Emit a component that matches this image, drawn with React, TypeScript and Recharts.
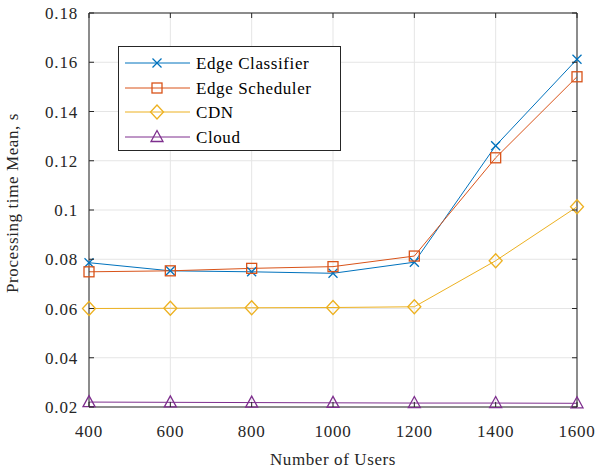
import { LineChart, Line, XAxis, YAxis, CartesianGrid, ReferenceLine, Legend } from 'recharts';

const users = [400, 600, 800, 1000, 1200, 1400, 1600];
const edgeClassifier = [0.0786, 0.0753, 0.0749, 0.0743, 0.0788, 0.1261, 0.1612];
const edgeScheduler = [0.0749, 0.0753, 0.0763, 0.077, 0.0813, 0.1212, 0.1541];
const cdn = [0.06, 0.0601, 0.0603, 0.0604, 0.0607, 0.0794, 0.1013];
const cloud = [0.022, 0.0219, 0.0218, 0.0217, 0.0216, 0.0216, 0.0215];

const xTicks = [400, 600, 800, 1000, 1200, 1400, 1600];
const yTicks = [0.02, 0.04, 0.06, 0.08, 0.1, 0.12, 0.14, 0.16, 0.18];

const data = users.map((u, i) => ({
  users: u,
  classifier: edgeClassifier[i],
  scheduler: edgeScheduler[i],
  cdn: cdn[i],
  cloud: cloud[i],
}));

const series = [
  { key: 'classifier', name: 'Edge Classifier', color: '#0072BD', marker: 'x' },
  { key: 'scheduler', name: 'Edge Scheduler', color: '#D95319', marker: 'square' },
  { key: 'cdn', name: 'CDN', color: '#EDB120', marker: 'diamond' },
  { key: 'cloud', name: 'Cloud', color: '#7E2F8E', marker: 'triangle' },
];

const FONT = '"Liberation Serif", "Times New Roman", serif';
const AXIS = '#262626';
const TOP = 13;
const BOTTOM = 407;
const LEFT = 89;
const RIGHT = 577;

function Marker({ type, cx, cy, color }: { type: string; cx: number; cy: number; color: string }) {
  const sw = 1.3;
  if (type === 'x') {
    const r = 4.5;
    return (
      <g stroke={color} strokeWidth={sw} fill="none">
        <line x1={cx - r} y1={cy - r} x2={cx + r} y2={cy + r} />
        <line x1={cx - r} y1={cy + r} x2={cx + r} y2={cy - r} />
      </g>
    );
  }
  if (type === 'square') {
    const r = 5;
    return <rect x={cx - r} y={cy - r} width={2 * r} height={2 * r} stroke={color} strokeWidth={sw} fill="none" />;
  }
  if (type === 'diamond') {
    return (
      <polygon
        points={`${cx},${cy - 7} ${cx + 6.5},${cy} ${cx},${cy + 7} ${cx - 6.5},${cy}`}
        stroke={color}
        strokeWidth={sw}
        fill="none"
      />
    );
  }
  return (
    <polygon
      points={`${cx},${cy - 6.5} ${cx + 6},${cy + 4.5} ${cx - 6},${cy + 4.5}`}
      stroke={color}
      strokeWidth={sw}
      fill="none"
    />
  );
}

const XTick = (props: any) => {
  const { x, payload } = props;
  return (
    <g>
      <line x1={x} y1={BOTTOM} x2={x} y2={BOTTOM - 5} stroke={AXIS} />
      <line x1={x} y1={TOP} x2={x} y2={TOP + 5} stroke={AXIS} />
      <text x={x} y={437} textAnchor="middle" fontFamily={FONT} fontSize={17} fill={AXIS} letterSpacing={0.8}>
        {payload.value}
      </text>
    </g>
  );
};

const YTick = (props: any) => {
  const { y, payload } = props;
  return (
    <g>
      <line x1={LEFT} y1={y} x2={LEFT + 5} y2={y} stroke={AXIS} />
      <line x1={RIGHT} y1={y} x2={RIGHT - 5} y2={y} stroke={AXIS} />
      <text x={78} y={y + 6} textAnchor="end" fontFamily={FONT} fontSize={17} fill={AXIS} letterSpacing={0.8}>
        {String(payload.value)}
      </text>
    </g>
  );
};

const LegendBox = () => {
  const rows = [17, 42, 66, 91];
  return (
    <svg width={223} height={105} style={{ display: 'block' }}>
      <rect x={0.5} y={0.5} width={222} height={104} fill="#fff" stroke={AXIS} strokeWidth={1} />
      {series.map((s, i) => (
        <g key={s.key}>
          <line x1={7} y1={rows[i]} x2={72} y2={rows[i]} stroke={s.color} strokeWidth={1} />
          <Marker type={s.marker} cx={39} cy={rows[i]} color={s.color} />
          <text x={78} y={rows[i] + 6} fontFamily={FONT} fontSize={17} fill="#000" letterSpacing={0.6}>
            {s.name}
          </text>
        </g>
      ))}
    </svg>
  );
};

export default function App() {
  return (
    <div style={{ position: 'absolute', left: 0, top: 0, width: 599, height: 471, background: '#fff' }}>
      <LineChart width={599} height={471} data={data} margin={{ top: TOP, right: 599 - RIGHT, bottom: 0, left: 0 }}>
        <CartesianGrid stroke="#e5e5e5" strokeWidth={1} horizontalValues={yTicks} verticalValues={xTicks} />
        <XAxis
          dataKey="users"
          type="number"
          domain={[400, 1600]}
          ticks={xTicks}
          height={471 - BOTTOM - TOP + 13}
          stroke={AXIS}
          tickLine={false}
          tick={<XTick />}
          interval={0}
          label={{
            content: () => (
              <text x={(LEFT + RIGHT) / 2} y={465} textAnchor="middle" fontFamily={FONT} fontSize={17} fill={AXIS} letterSpacing={0.6}>
                Number of Users
              </text>
            ),
          }}
        />
        <YAxis
          type="number"
          domain={[0.02, 0.18]}
          ticks={yTicks}
          width={LEFT}
          stroke={AXIS}
          tickLine={false}
          tick={<YTick />}
          interval={0}
          label={{
            content: () => (
              <text
                transform={`translate(18, 203) rotate(-90)`}
                textAnchor="middle"
                fontFamily={FONT}
                fontSize={17}
                fill={AXIS}
                letterSpacing={0.6}
              >
                Processing time Mean, s
              </text>
            ),
          }}
        />
        <ReferenceLine x={1600} stroke={AXIS} />
        <ReferenceLine y={0.18} stroke={AXIS} />
        {series.map((s) => (
          <Line
            key={s.key}
            dataKey={s.key}
            name={s.name}
            stroke={s.color}
            strokeWidth={1}
            isAnimationActive={false}
            dot={(p: any) => <Marker key={`${s.key}-${p.index}`} type={s.marker} cx={p.cx} cy={p.cy} color={s.color} />}
            activeDot={false}
          />
        ))}
        <Legend
          layout="vertical"
          align="center"
          verticalAlign="middle"
          content={() => <LegendBox />}
          wrapperStyle={{ position: 'absolute', left: 118, top: 46, width: 223, height: 105 }}
        />
      </LineChart>
    </div>
  );
}
